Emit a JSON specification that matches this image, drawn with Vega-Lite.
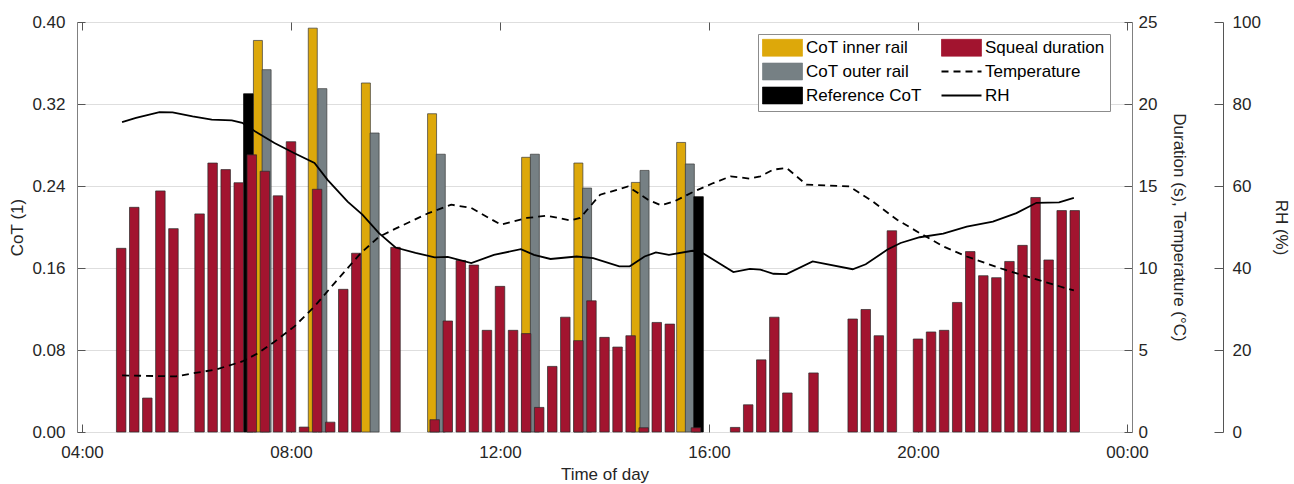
{
  "$schema": "https://vega.github.io/schema/vega-lite/v6.json",
  "width": 1055,
  "height": 410,
  "autosize": {"type": "none"},
  "padding": {"left": 77, "top": 22, "right": 162, "bottom": 52},
  "background": "white",
  "config": {
    "font": "Liberation Sans",
    "view": {"stroke": "#808080", "strokeWidth": 1},
    "axis": {
      "labelFont": "Liberation Sans", "titleFont": "Liberation Sans",
      "labelFontSize": 17, "titleFontSize": 17,
      "labelColor": "#262626", "titleColor": "#262626",
      "titleFontWeight": "normal",
      "domainColor": "#555555", "tickColor": "#555555"
    },
    "legend": {"labelFont": "Liberation Sans", "labelFontSize": 17, "labelColor": "#000000"}
  },
  "layer": [
    {
      "layer": [
        {
          "data": {
            "values": [
              {"time": "07:22", "cot": 0.382}, {"time": "08:25", "cot": 0.394},
              {"time": "09:26", "cot": 0.3405}, {"time": "10:42", "cot": 0.3105},
              {"time": "12:30", "cot": 0.268}, {"time": "13:30", "cot": 0.2624},
              {"time": "14:36", "cot": 0.2435}, {"time": "15:28", "cot": 0.2825}
            ],
            "format": {"parse": {"time": "date:'%H:%M'"}}
          },
          "mark": {"type": "bar", "width": 9, "stroke": "#3a3a3a", "strokeWidth": 0.7},
          "encoding": {
            "x": {
              "field": "time", "type": "temporal",
              "scale": {"domain": [{"year": 1900, "month": 1, "date": 1, "hours": 4}, {"year": 1900, "month": 1, "date": 2, "hours": 0}]},
              "axis": {
                "orient": "bottom", "title": "Time of day", "format": "%H:%M",
                "values": [
                  {"year": 1900, "month": 1, "date": 1, "hours": 4},
                  {"year": 1900, "month": 1, "date": 1, "hours": 8},
                  {"year": 1900, "month": 1, "date": 1, "hours": 12},
                  {"year": 1900, "month": 1, "date": 1, "hours": 16},
                  {"year": 1900, "month": 1, "date": 1, "hours": 20},
                  {"year": 1900, "month": 1, "date": 2, "hours": 0}
                ],
                "grid": false, "domain": false, "tickSize": -8, "labelPadding": 20, "titlePadding": 6
              }
            },
            "y": {
              "field": "cot", "type": "quantitative",
              "scale": {"domain": [0, 0.4], "nice": false},
              "axis": {
                "orient": "left", "title": "CoT (1)", "format": ".2f",
                "values": [0, 0.08, 0.16, 0.24, 0.32, 0.4],
                "grid": true, "gridColor": "#dedede", "domain": false,
                "tickSize": -8, "labelPadding": 20, "titlePadding": 5
              }
            },
            "color": {
              "datum": "CoT inner rail", "type": "nominal",
              "scale": {
                "domain": ["CoT inner rail", "CoT outer rail", "Reference CoT", "Squeal duration", "Temperature", "RH"],
                "range": ["#DDA80A", "#768084", "#000000", "#A2142F", "#000000", "#000000"]
              },
              "legend": {
                "orient": "none", "legendX": 681, "legendY": 12,
                "columns": 2, "title": null,
                "fillColor": "white", "strokeColor": "#8c8c8c", "padding": 5,
                "symbolSize": 1600, "symbolOffset": 11, "labelOffset": 15, "columnPadding": 15, "rowPadding": 3,
                "symbolOpacity": 1,
                "symbolType": {"expr": "datum.value === 'Temperature' || datum.value === 'RH' ? 'stroke' : 'M-1,-0.42H1V0.42H-1Z'"},
                "symbolStrokeColor": {"expr": "datum.value === 'Temperature' || datum.value === 'RH' ? '#000000' : '#333333'"},
                "symbolDash": {"expr": "datum.value === 'Temperature' ? [7, 5] : [1, 0]"},
                "symbolStrokeWidth": {"expr": "datum.value === 'Temperature' || datum.value === 'RH' ? 1.8 : 0.8"}
              }
            }
          }
        },
        {
          "data": {
            "values": [
              {"time": "07:32", "cot": 0.3535}, {"time": "08:36", "cot": 0.335},
              {"time": "09:36", "cot": 0.2917}, {"time": "10:52", "cot": 0.271},
              {"time": "12:40", "cot": 0.271}, {"time": "13:40", "cot": 0.238},
              {"time": "14:46", "cot": 0.2552}, {"time": "15:38", "cot": 0.2615}
            ],
            "format": {"parse": {"time": "date:'%H:%M'"}}
          },
          "mark": {"type": "bar", "width": 9, "stroke": "#3a3a3a", "strokeWidth": 0.7},
          "encoding": {
            "x": {"field": "time", "type": "temporal"},
            "y": {"field": "cot", "type": "quantitative"},
            "color": {"datum": "CoT outer rail", "type": "nominal", "legend": null}
          }
        },
        {
          "data": {
            "values": [
              {"time": "07:11", "cot": 0.33}, {"time": "15:48", "cot": 0.2296}
            ],
            "format": {"parse": {"time": "date:'%H:%M'"}}
          },
          "mark": {"type": "bar", "width": 9.5, "stroke": "#000000", "strokeWidth": 0.7},
          "encoding": {
            "x": {"field": "time", "type": "temporal"},
            "y": {"field": "cot", "type": "quantitative"},
            "color": {"datum": "Reference CoT", "type": "nominal", "legend": null}
          }
        }
      ]
    },
    {
      "layer": [
        {
          "data": {
            "values": [
              {"time": "04:45", "duration": 11.2}, {"time": "05:00", "duration": 13.7},
              {"time": "05:15", "duration": 2.07}, {"time": "05:30", "duration": 14.7},
              {"time": "05:45", "duration": 12.4}, {"time": "06:15", "duration": 13.3},
              {"time": "06:30", "duration": 16.4}, {"time": "06:45", "duration": 16.0},
              {"time": "07:00", "duration": 15.2}, {"time": "07:15", "duration": 16.9},
              {"time": "07:30", "duration": 15.9}, {"time": "07:45", "duration": 14.4},
              {"time": "08:00", "duration": 17.7}, {"time": "08:15", "duration": 0.3},
              {"time": "08:30", "duration": 14.8}, {"time": "08:45", "duration": 0.6},
              {"time": "09:00", "duration": 8.7}, {"time": "09:15", "duration": 10.9},
              {"time": "10:00", "duration": 11.26}, {"time": "10:45", "duration": 0.75},
              {"time": "11:00", "duration": 6.77}, {"time": "11:15", "duration": 10.46},
              {"time": "11:30", "duration": 10.18}, {"time": "11:45", "duration": 6.2},
              {"time": "12:00", "duration": 8.88}, {"time": "12:15", "duration": 6.2},
              {"time": "12:30", "duration": 6.0}, {"time": "12:45", "duration": 1.5},
              {"time": "13:00", "duration": 4.0}, {"time": "13:15", "duration": 7.0},
              {"time": "13:30", "duration": 5.57}, {"time": "13:45", "duration": 8.0},
              {"time": "14:00", "duration": 5.77}, {"time": "14:15", "duration": 5.18},
              {"time": "14:30", "duration": 5.87}, {"time": "14:45", "duration": 0.26},
              {"time": "15:00", "duration": 6.68}, {"time": "15:15", "duration": 6.58},
              {"time": "15:45", "duration": 0.26}, {"time": "16:30", "duration": 0.28},
              {"time": "16:45", "duration": 1.66}, {"time": "17:00", "duration": 4.4},
              {"time": "17:15", "duration": 7.0}, {"time": "17:30", "duration": 2.38},
              {"time": "18:00", "duration": 3.6}, {"time": "18:45", "duration": 6.89},
              {"time": "19:00", "duration": 7.47}, {"time": "19:15", "duration": 5.87},
              {"time": "19:30", "duration": 12.27}, {"time": "20:00", "duration": 5.67},
              {"time": "20:15", "duration": 6.1}, {"time": "20:30", "duration": 6.2},
              {"time": "20:45", "duration": 7.9}, {"time": "21:00", "duration": 11.0},
              {"time": "21:15", "duration": 9.53}, {"time": "21:30", "duration": 9.41},
              {"time": "21:45", "duration": 10.4}, {"time": "22:00", "duration": 11.38},
              {"time": "22:15", "duration": 14.3}, {"time": "22:30", "duration": 10.49},
              {"time": "22:45", "duration": 13.5}, {"time": "23:00", "duration": 13.5}
            ],
            "format": {"parse": {"time": "date:'%H:%M'"}}
          },
          "mark": {"type": "bar", "width": 9.5, "stroke": "#2a2a2a", "strokeWidth": 0.7},
          "encoding": {
            "x": {"field": "time", "type": "temporal", "axis": null},
            "y": {
              "field": "duration", "type": "quantitative",
              "scale": {"domain": [0, 25], "nice": false},
              "axis": {
                "orient": "right", "title": "Duration (s), Temperature (°C)",
                "values": [0, 5, 10, 15, 20, 25], "grid": false, "domain": false,
                "tickSize": -8, "labelPadding": 14, "titlePadding": 13
              }
            },
            "color": {"datum": "Squeal duration", "type": "nominal", "legend": null}
          }
        },
        {
          "data": {
            "values": [
              {"time": "04:46", "temperature": 3.45}, {"time": "05:48", "temperature": 3.39},
              {"time": "06:10", "temperature": 3.6}, {"time": "06:33", "temperature": 3.8},
              {"time": "07:04", "temperature": 4.3}, {"time": "07:22", "temperature": 4.8},
              {"time": "07:41", "temperature": 5.5}, {"time": "08:04", "temperature": 6.44},
              {"time": "08:27", "temperature": 7.66}, {"time": "08:50", "temperature": 9.08},
              {"time": "09:20", "temperature": 10.9}, {"time": "09:41", "temperature": 11.9},
              {"time": "10:00", "temperature": 12.4}, {"time": "10:38", "temperature": 13.35},
              {"time": "11:04", "temperature": 13.86}, {"time": "11:27", "temperature": 13.66},
              {"time": "12:01", "temperature": 12.64}, {"time": "12:31", "temperature": 13.05},
              {"time": "12:54", "temperature": 13.19}, {"time": "13:21", "temperature": 12.9},
              {"time": "13:32", "temperature": 13.05}, {"time": "13:55", "temperature": 14.47},
              {"time": "14:18", "temperature": 14.82}, {"time": "14:27", "temperature": 14.97},
              {"time": "14:50", "temperature": 14.16}, {"time": "15:05", "temperature": 13.82},
              {"time": "15:20", "temperature": 14.06}, {"time": "15:43", "temperature": 14.67},
              {"time": "16:05", "temperature": 15.18}, {"time": "16:25", "temperature": 15.59},
              {"time": "16:47", "temperature": 15.45}, {"time": "16:59", "temperature": 15.59},
              {"time": "17:14", "temperature": 16.0}, {"time": "17:29", "temperature": 16.1},
              {"time": "17:52", "temperature": 15.08}, {"time": "18:14", "temperature": 15.04},
              {"time": "18:41", "temperature": 14.98}, {"time": "19:08", "temperature": 14.06},
              {"time": "19:36", "temperature": 12.94}, {"time": "20:02", "temperature": 12.13},
              {"time": "20:29", "temperature": 11.32}, {"time": "20:56", "temperature": 10.7},
              {"time": "21:37", "temperature": 9.94}, {"time": "22:11", "temperature": 9.39},
              {"time": "22:49", "temperature": 8.78}, {"time": "22:59", "temperature": 8.63}
            ],
            "format": {"parse": {"time": "date:'%H:%M'"}}
          },
          "mark": {"type": "line", "strokeWidth": 1.8, "strokeDash": [7, 5]},
          "encoding": {
            "x": {"field": "time", "type": "temporal", "axis": null},
            "y": {"field": "temperature", "type": "quantitative"},
            "color": {"datum": "Temperature", "type": "nominal", "legend": null}
          }
        }
      ]
    },
    {
      "data": {
        "values": [
          {"time": "04:46", "rh": 75.6}, {"time": "05:02", "rh": 76.6},
          {"time": "05:29", "rh": 78.0}, {"time": "05:44", "rh": 77.95},
          {"time": "06:07", "rh": 77.0}, {"time": "06:29", "rh": 76.2},
          {"time": "06:52", "rh": 76.0}, {"time": "07:04", "rh": 75.4},
          {"time": "07:19", "rh": 73.3}, {"time": "07:41", "rh": 70.5},
          {"time": "08:04", "rh": 68.0}, {"time": "08:27", "rh": 65.6},
          {"time": "08:42", "rh": 61.5}, {"time": "09:05", "rh": 56.2},
          {"time": "09:22", "rh": 53.0}, {"time": "09:41", "rh": 48.5},
          {"time": "10:00", "rh": 45.0}, {"time": "10:23", "rh": 43.7},
          {"time": "10:45", "rh": 42.6}, {"time": "11:00", "rh": 42.7},
          {"time": "11:27", "rh": 41.2}, {"time": "11:53", "rh": 43.2},
          {"time": "12:24", "rh": 44.6}, {"time": "12:39", "rh": 43.2},
          {"time": "12:58", "rh": 42.2}, {"time": "13:28", "rh": 42.8},
          {"time": "13:47", "rh": 42.4}, {"time": "14:17", "rh": 40.4},
          {"time": "14:29", "rh": 40.4}, {"time": "14:46", "rh": 42.8},
          {"time": "14:59", "rh": 43.8}, {"time": "15:14", "rh": 43.2},
          {"time": "15:41", "rh": 44.2}, {"time": "15:50", "rh": 44.0},
          {"time": "16:28", "rh": 39.0}, {"time": "16:47", "rh": 39.8},
          {"time": "16:59", "rh": 39.6}, {"time": "17:14", "rh": 38.6},
          {"time": "17:29", "rh": 38.5}, {"time": "17:59", "rh": 41.6},
          {"time": "18:45", "rh": 39.7}, {"time": "19:00", "rh": 40.9},
          {"time": "19:25", "rh": 44.5}, {"time": "19:40", "rh": 46.1},
          {"time": "20:02", "rh": 47.5}, {"time": "20:29", "rh": 48.4},
          {"time": "20:56", "rh": 50.1}, {"time": "21:26", "rh": 51.3},
          {"time": "21:53", "rh": 53.4}, {"time": "22:16", "rh": 55.9},
          {"time": "22:42", "rh": 56.0}, {"time": "22:59", "rh": 57.1}
        ],
        "format": {"parse": {"time": "date:'%H:%M'"}}
      },
      "mark": {"type": "line", "strokeWidth": 1.8},
      "encoding": {
        "x": {
          "field": "time", "type": "temporal",
          "axis": {
            "orient": "top", "title": null, "labels": false, "domain": false, "grid": false,
            "tickSize": -8,
            "values": [
              {"year": 1900, "month": 1, "date": 1, "hours": 4},
              {"year": 1900, "month": 1, "date": 1, "hours": 8},
              {"year": 1900, "month": 1, "date": 1, "hours": 12},
              {"year": 1900, "month": 1, "date": 1, "hours": 16},
              {"year": 1900, "month": 1, "date": 1, "hours": 20},
              {"year": 1900, "month": 1, "date": 2, "hours": 0}
            ]
          }
        },
        "y": {
          "field": "rh", "type": "quantitative",
          "scale": {"domain": [0, 100], "nice": false},
          "axis": {
            "orient": "right", "offset": 91, "title": "RH (%)",
            "values": [0, 20, 40, 60, 80, 100], "grid": false, "domain": true,
            "tickSize": -9, "labelPadding": 18, "titlePadding": 11
          }
        },
        "color": {"datum": "RH", "type": "nominal", "legend": null}
      }
    }
  ],
  "resolve": {"scale": {"y": "independent"}, "axis": {"y": "independent", "x": "independent"}}
}
